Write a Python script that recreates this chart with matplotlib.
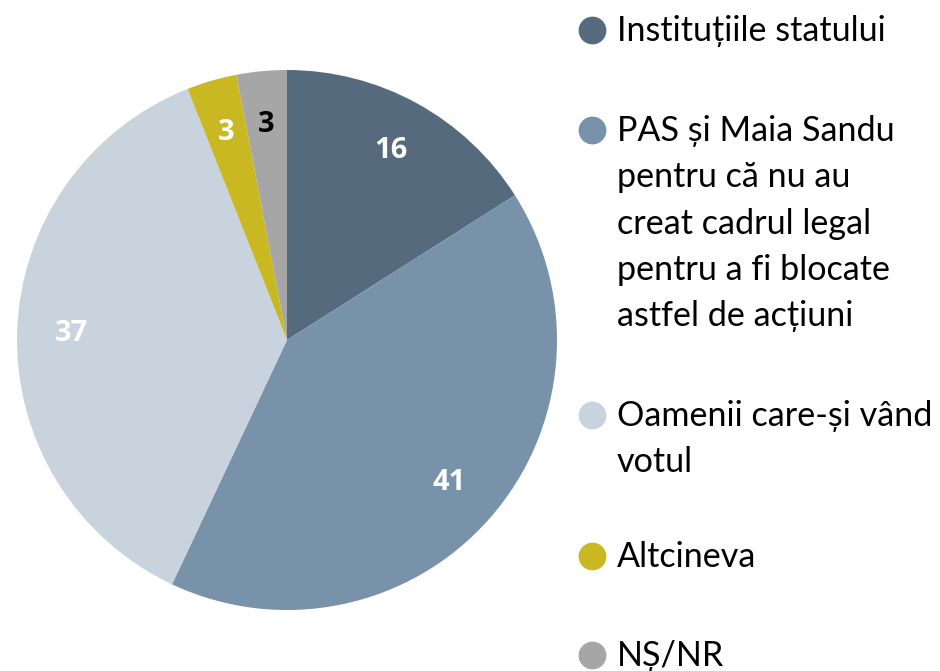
import numpy as np
import matplotlib
matplotlib.use("Agg")
import matplotlib.pyplot as plt

plt.rcParams['font.family'] = ['Lato', 'DejaVu Sans']

categories = ["Instituțiile statului",
              "PAS și Maia Sandu\npentru că nu au\ncreat cadrul legal\npentru a fi blocate\nastfel de acțiuni",
              "Oamenii care-și vând\nvotul",
              "Altcineva",
              "NȘ/NR"]
values = [16, 41, 37, 3, 3]
colors = ["#566a7d", "#7892aa", "#c8d3de", "#c9b822", "#a6a6a6"]
label_colors = ["white", "white", "white", "white", "black"]

W, H = 940, 671
fig = plt.figure(figsize=(W / 100, H / 100), dpi=100)

# pie: centre (287, 340) px, radius 270 px
cx, cy, r = 287, 340, 270
ax = fig.add_axes([(cx - r) / W, (H - cy - r) / H, 2 * r / W, 2 * r / H])
wedges, _ = ax.pie(values, colors=colors, startangle=90, counterclock=False,
                   radius=1, wedgeprops=dict(linewidth=0))
ax.set_xlim(-1, 1)
ax.set_ylim(-1, 1)
ax.set_aspect('equal')
ax.axis('off')

for w, v, c in zip(wedges, values, label_colors):
    ang = np.deg2rad((w.theta1 + w.theta2) / 2)
    ax.text(0.8 * np.cos(ang), 0.8 * np.sin(ang), str(v), ha='center', va='center',
            fontsize=21, fontweight='bold', color=c, family=['Open Sans', 'DejaVu Sans'])

# legend drawn by hand (marker aligned with first line)
lg = fig.add_axes([0, 0, 1, 1])
lg.set_xlim(0, W)
lg.set_ylim(H, 0)
lg.axis('off')
first_line_y = [30, 130, 415, 556, 655]
for lab, col, y in zip(categories, colors, first_line_y):
    lg.plot(592, y, 'o', ms=20, color=col, mec='none')
    lg.text(617, y - 15, lab, ha='left', va='top', fontsize=24.6, linespacing=1.55, color='black')

fig.savefig("out.png", dpi=100)
